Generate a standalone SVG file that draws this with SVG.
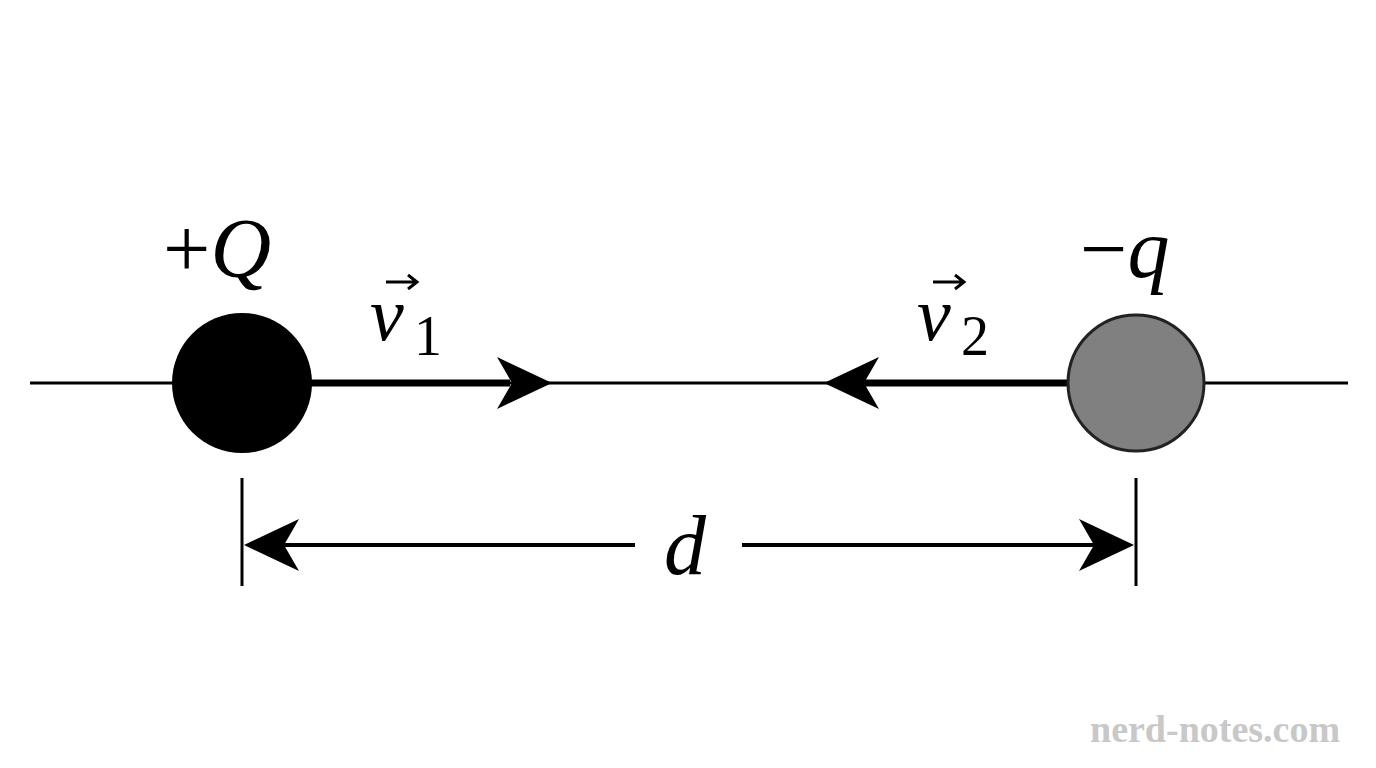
<svg xmlns="http://www.w3.org/2000/svg" width="1376" height="768" viewBox="0 0 1376 768">
<style>
.m{font-family:"Liberation Serif","DejaVu Serif",serif;fill:#000}
.i{font-style:italic}
.ln{stroke:#000;fill:none}
</style>
<defs>
<path id="ah" d="M0,0 L-55,-26 L-40,0 L-55,26 Z" fill="#000"/>
<path id="vec" d="M0,0 L30,0 M22,-7 L31,0 L22,7" stroke="#000" stroke-width="3" fill="none"/>
</defs>
<rect width="1376" height="768" fill="#fff"/>
<g id="connectors">
<line class="ln" x1="30" y1="383" x2="1348" y2="383" stroke-width="3"/>
<line class="ln" x1="300" y1="383" x2="510" y2="383" stroke-width="7"/>
<use href="#ah" transform="translate(552,383)"/>
<line class="ln" x1="865" y1="383" x2="1075" y2="383" stroke-width="7"/>
<use href="#ah" transform="translate(824,383) rotate(180)"/>
<g id="dimension">
<line class="ln" x1="242" y1="478" x2="242" y2="586" stroke-width="3"/>
<line class="ln" x1="1136" y1="478" x2="1136" y2="586" stroke-width="3"/>
<line class="ln" x1="270" y1="545" x2="635" y2="545" stroke-width="4"/>
<line class="ln" x1="742" y1="545" x2="1105" y2="545" stroke-width="4"/>
<use href="#ah" transform="translate(244,545) rotate(180)"/>
<use href="#ah" transform="translate(1134,545)"/>
</g>
</g>
<g id="chargeQ">
<circle cx="242" cy="383" r="70" fill="#000"/>
<text class="m" x="163" y="277" font-size="84">+<tspan class="i">Q</tspan></text>
</g>
<g id="chargeq">
<circle cx="1136" cy="383" r="68" fill="#808080" stroke="#222" stroke-width="3"/>
<text class="m" x="1080" y="277" font-size="84">−<tspan class="i">q</tspan></text>
</g>
<g id="v1">
<text class="m i" x="370" y="340" font-size="76">v</text>
<text class="m" x="414" y="355" font-size="56">1</text>
<use href="#vec" transform="translate(386,282)"/>
</g>
<g id="v2">
<text class="m i" x="917" y="340" font-size="76">v</text>
<text class="m" x="961" y="355" font-size="56">2</text>
<use href="#vec" transform="translate(933,282)"/>
</g>
<text class="m i" x="664" y="574" font-size="84">d</text>
<text x="1090" y="742" font-family="Liberation Serif, serif" font-weight="bold" font-size="38" fill="#c8c8c8">nerd-notes.com</text>
</svg>
